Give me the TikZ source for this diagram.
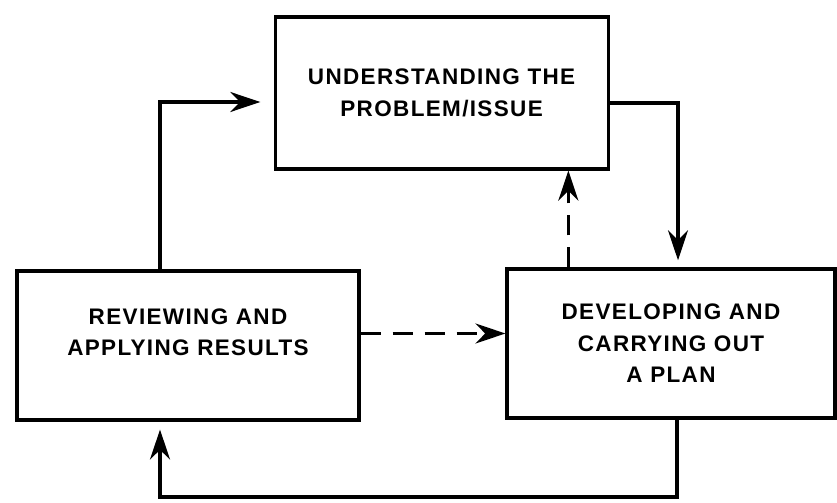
\documentclass[tikz,border=0pt]{standalone}
\usepackage{fontspec}
\setmainfont[LetterSpace=6]{Liberation Sans}
\usetikzlibrary{arrows.meta}
\usetikzlibrary{calc}

\begin{document}
\begin{tikzpicture}[
    box/.style={draw,rectangle,line width=2.2pt},
    words/.style={align=center,font=\bfseries\fontsize{16}{22.5}\selectfont},
    flow/.style={line width=2.2pt,-{Stealth[length=7.5mm,width=5mm]}},
    maybe/.style={flow,dash pattern=on 5mm off 3mm}]
      \useasboundingbox (0,0) rectangle (20.925,12.55);

      \node[box,words,minimum width=8.325cm,minimum height=3.8cm] (problem) at (11.04,10.225) {UNDERSTANDING THE\\PROBLEM/ISSUE};
      \node[box,minimum width=8.55cm,minimum height=3.725cm] (review) at (4.7,3.9125) {};
      \node[words] (reviewtext) at ([yshift=0.33cm]review.center) {REVIEWING AND\\APPLYING RESULTS};
      \node[box,words,minimum width=8.2cm,minimum height=3.725cm] (plan) at (16.775,3.9625) {DEVELOPING AND\\CARRYING OUT\\A PLAN};

      \coordinate (upleft) at (4.0,10.0);
      \coordinate (upright) at (16.95,9.975);
      \coordinate (down) at (16.925,0.125);
      \coordinate (dashup) at ($(plan.north west)!0.19!(plan.north east)$);

      \draw[flow,shorten >=0.33cm] (review.north -| upleft) -- (upleft) -- (problem.west |- upleft);
      \draw[flow,shorten >=0.18cm] (problem.east |- upright) -- (upright) -- (plan.north -| upright);
      \draw[maybe] (dashup) -- (dashup |- problem.south);
      \draw[maybe] ([yshift=0.3cm]review.east) -- ([yshift=0.3cm]review.east -| plan.west);
      \draw[flow,shorten >=0.2cm] (plan.south -| down) -- (down) -- (down -| upleft) -- (review.south -| upleft);
\end{tikzpicture}
\end{document}
